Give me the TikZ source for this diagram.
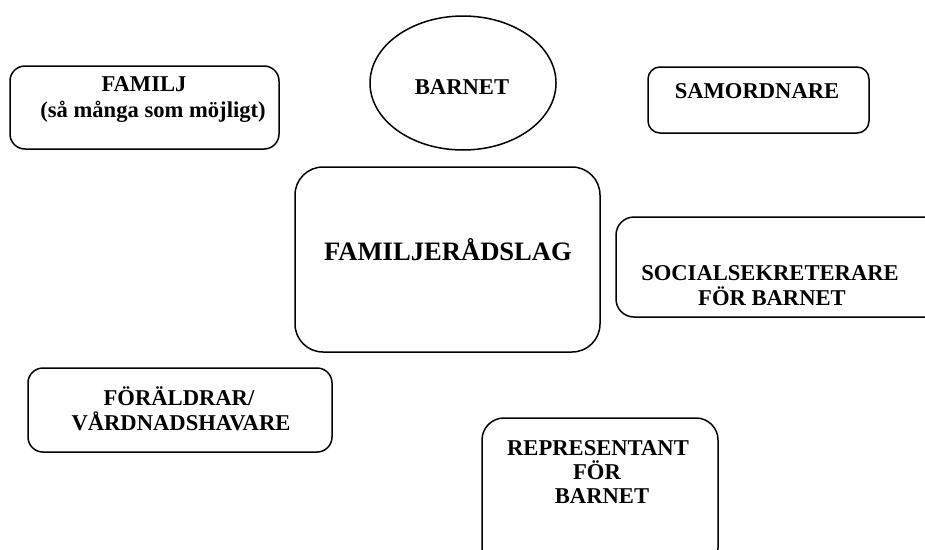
\documentclass[tikz,border=0pt]{standalone}
\usepackage{fontspec}
\setmainfont{Liberation Serif}
\usetikzlibrary{shapes.geometric}
\begin{document}
\begin{tikzpicture}[x=1pt,y=-1pt,
  boxline/.style={draw=black,line width=1.5pt},
  txt/.style={anchor=base,inner sep=0pt,font=\fontsize{22.6}{25}\selectfont\bfseries},
  bigtxt/.style={anchor=base,inner sep=0pt,font=\fontsize{26.6}{30}\selectfont\bfseries}]
\useasboundingbox (0,0) rectangle (925,549);
\clip (0,0) rectangle (925,549);
% boxes
\draw[boxline,rounded corners=15pt] (10,66) rectangle (279,149);
\node[boxline,ellipse,minimum width=186pt,minimum height=134pt,inner sep=0pt] (barnet) at (463,83) {};
\draw[boxline,rounded corners=12pt] (648,67) rectangle (869,133);
\draw[boxline,rounded corners=28pt] (295,167) rectangle (600,352);
\draw[boxline,rounded corners=18pt] (616,217) rectangle (945,317);
\draw[boxline,rounded corners=15pt] (28,368) rectangle (332,452);
\draw[boxline,rounded corners=22pt] (482,418) rectangle (718,570);
% texts
\node[txt] (t1) at (144,91) {FAMILJ};
\node[txt] (t2) at (153,117) {(så många som möjligt)};
\node[txt] (t3) at (462,94) {BARNET};
\node[txt] (t4) at (757,98) {SAMORDNARE};
\node[bigtxt] (t5) at (448,260) {FAMILJERÅDSLAG};
\node[txt] (t6) at (770,280) {SOCIALSEKRETERARE};
\node[txt] (t7) at (772,305) {FÖR BARNET};
\node[txt] (t8) at (179,405) {FÖRÄLDRAR/};
\node[txt] (t9) at (181,430) {VÅRDNADSHAVARE};
\node[txt] (t10) at (598,455) {REPRESENTANT};
\node[txt] (t11) at (597,479) {FÖR};
\node[txt] (t12) at (602,503) {BARNET};
\end{tikzpicture}
\end{document}
